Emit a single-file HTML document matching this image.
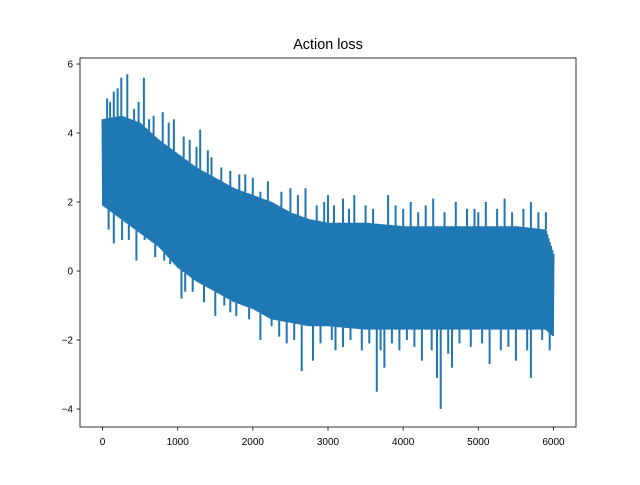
<!DOCTYPE html>
<html><head><meta charset="utf-8"><style>
body{margin:0;background:#fff}
text{font-family:"Liberation Sans","DejaVu Sans",sans-serif;fill:#000}
</style></head><body>
<svg id="chart" width="640" height="480" xmlns="http://www.w3.org/2000/svg">
<rect width="640" height="480" fill="#fff"/>
<text x="328" y="49" font-size="14.4" text-anchor="middle">Action loss</text>
<g id="plot"></g>
<rect x="80" y="58" width="496" height="369" fill="none" stroke="#000" stroke-width="0.8"/>
<g id="axes"></g>
</svg>
<script>
const stepSamples=[0,250,500,750,1000,1250,1500,1750,2000,2250,2500,2750,3000,3500,4000,4500,5000,5500,5900,6000];
const upperLoss=[4.4,4.5,4.3,3.8,3.4,3.0,2.7,2.4,2.2,2.0,1.7,1.5,1.4,1.4,1.3,1.3,1.3,1.3,1.2,0.5];
const lowerLoss=[1.9,1.5,1.1,0.7,0.1,-0.3,-0.6,-0.9,-1.1,-1.4,-1.5,-1.6,-1.6,-1.7,-1.7,-1.7,-1.7,-1.7,-1.7,-1.9];
const spikeSteps=[150,250,330,550,800,950,1300,1400,1700,1900,2100,2500,2700,3000,3200,3350,3800,4100,4400,4700,5100,5350,5700,5900,
  150,350,450,700,1050,1100,1500,1700,1950,2100,2350,2650,2800,3100,3300,3450,3650,3750,3950,4250,4450,4500,4650,4900,5150,5300,5500,5700,5950,
  60,100,200,420,480,620,680,880,1080,1160,1250,1450,1580,1820,2000,2200,2380,2600,2850,2950,3080,3280,3500,3600,3900,4000,4200,4300,4550,4850,4950,5000,5250,5450,5600,5800,
  80,260,560,820,900,1200,1350,1620,1780,2250,2450,2550,2900,3050,3200,3550,3700,3850,4050,4150,4380,4600,4750,5050,5400,5650,5850];
const spikeValues=[5.2,5.6,5.7,5.6,4.6,4.4,4.1,3.5,2.9,2.8,2.3,2.4,2.4,2.2,2.1,2.2,2.2,2.0,2.1,2.0,2.0,2.1,2.0,1.7,
  0.8,0.9,0.3,0.4,-0.8,-0.6,-1.3,-1.2,-1.4,-2.0,-1.9,-2.9,-2.6,-2.3,-2.0,-2.3,-3.5,-2.8,-2.3,-2.6,-3.1,-4.0,-2.8,-2.2,-2.7,-2.3,-2.6,-3.1,-2.3,
  5.0,4.9,5.3,4.7,4.9,4.4,4.5,4.3,3.9,3.8,3.6,3.3,3.0,2.8,2.7,2.6,2.3,2.2,1.9,2.0,1.9,1.8,1.9,1.8,1.9,1.8,1.7,1.9,1.7,1.8,1.8,1.7,1.8,1.7,1.8,1.7,
  1.2,0.9,0.9,0.3,0.2,-0.6,-0.9,-1.0,-1.3,-1.6,-2.1,-2.0,-2.1,-2.0,-2.2,-2.1,-2.3,-2.1,-2.0,-2.2,-2.3,-2.4,-2.1,-2.1,-2.2,-2.3,-2.0];
const xTicks=[0,1000,2000,3000,4000,5000,6000];
const yTicks=[-4,-2,0,2,4,6];

const NS="http://www.w3.org/2000/svg";
const xs=v=>80+(v+300)/6600*496;
const ys=v=>271-v*34.5;
function interp(arr,s){
  for(let i=0;i<stepSamples.length-1;i++){
    if(s<=stepSamples[i+1]){const t=(s-stepSamples[i])/(stepSamples[i+1]-stepSamples[i]);return arr[i]+t*(arr[i+1]-arr[i]);}
  }
  return arr[arr.length-1];
}
const plot=document.getElementById('plot');
let d="";
let k=0;
for(let s=0;s<=6000;s+=8,k++){
  const v=(k%2===0)?interp(upperLoss,s):interp(lowerLoss,s);
  d+=(k===0?"M":"L")+xs(s).toFixed(1)+","+ys(v).toFixed(1);
}
for(let i=0;i<spikeSteps.length;i++){
  const s=spikeSteps[i];
  const v=spikeValues[i];
  const base=v>interp(upperLoss,s)?interp(upperLoss,s):interp(lowerLoss,s);
  d+="M"+xs(s).toFixed(1)+","+ys(base).toFixed(1)+"L"+xs(s).toFixed(1)+","+ys(v).toFixed(1);
}
const line=document.createElementNS(NS,'path');
line.setAttribute('d',d);
line.setAttribute('fill','none');
line.setAttribute('stroke','#1f77b4');
line.setAttribute('stroke-width','2');


plot.appendChild(line);

const axes=document.getElementById('axes');
xTicks.forEach(t=>{
  const l=document.createElementNS(NS,'line');
  l.setAttribute('x1',xs(t));l.setAttribute('x2',xs(t));l.setAttribute('y1',427);l.setAttribute('y2',430.5);
  l.setAttribute('stroke','#000');l.setAttribute('stroke-width','0.8');
  
  
  axes.appendChild(l);
  const tx=document.createElementNS(NS,'text');
  tx.setAttribute('x',xs(t));tx.setAttribute('y',445);tx.setAttribute('font-size','10');tx.setAttribute('text-anchor','middle');
  tx.textContent=t;
  
  
  axes.appendChild(tx);
});
yTicks.forEach(t=>{
  const l=document.createElementNS(NS,'line');
  l.setAttribute('x1',76.5);l.setAttribute('x2',80);l.setAttribute('y1',ys(t));l.setAttribute('y2',ys(t));
  l.setAttribute('stroke','#000');l.setAttribute('stroke-width','0.8');
  
  
  axes.appendChild(l);
  const tx=document.createElementNS(NS,'text');
  tx.setAttribute('x',73);tx.setAttribute('y',ys(t)+3.5);tx.setAttribute('font-size','10');tx.setAttribute('text-anchor','end');
  tx.textContent=t<0?'\u2212'+(-t):t;
  
  
  axes.appendChild(tx);
});
</script>
</body></html>
